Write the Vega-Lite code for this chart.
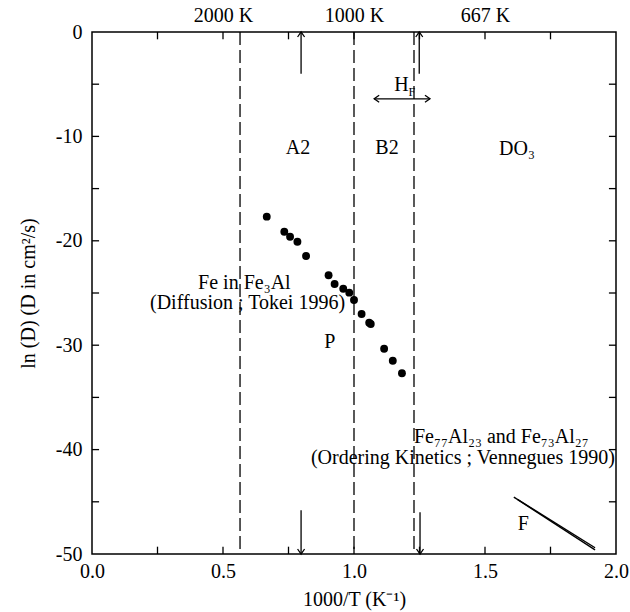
{
  "$schema": "https://vega.github.io/schema/vega-lite/v6.json",
  "width": 524,
  "height": 522,
  "autosize": "none",
  "padding": {"left": 92, "top": 32, "right": 14, "bottom": 58},
  "background": "white",
  "config": {
    "view": {"stroke": "black", "strokeWidth": 1.5},
    "font": "Liberation Serif",
    "axis": {
      "labelFont": "Liberation Serif",
      "titleFont": "Liberation Serif",
      "labelFontSize": 20,
      "titleFontSize": 20,
      "titleFontWeight": "normal",
      "labelColor": "black",
      "titleColor": "black",
      "grid": false,
      "ticks": false,
      "domain": false,
      "labelFlush": false,
      "labelOverlap": false,
      "zindex": 1
    }
  },
  "datasets": {
    "points": [
      {"x": 0.667, "y": -17.69},
      {"x": 0.734, "y": -19.13},
      {"x": 0.756, "y": -19.61},
      {"x": 0.784, "y": -20.09},
      {"x": 0.817, "y": -21.46},
      {"x": 0.903, "y": -23.30},
      {"x": 0.926, "y": -24.14},
      {"x": 0.959, "y": -24.59},
      {"x": 0.982, "y": -24.97},
      {"x": 1.000, "y": -25.67},
      {"x": 1.029, "y": -27.01},
      {"x": 1.058, "y": -27.84},
      {"x": 1.064, "y": -27.97},
      {"x": 1.115, "y": -30.34},
      {"x": 1.148, "y": -31.49},
      {"x": 1.183, "y": -32.69}
    ],
    "xticks": [{"v": 0.25}, {"v": 0.5}, {"v": 0.75}, {"v": 1.0}, {"v": 1.25}, {"v": 1.5}, {"v": 1.75}],
    "yticks": [{"v": -45}, {"v": -40}, {"v": -35}, {"v": -30}, {"v": -25}, {"v": -20}, {"v": -15}, {"v": -10}, {"v": -5}],
    "dashes": [{"x": 0.565}, {"x": 1.0}, {"x": 1.229}],
    "stems": [
      {"x": 0.798, "y": -4.0, "x2": 0.798, "y2": 0},
      {"x": 1.249, "y": -4.0, "x2": 1.249, "y2": 0},
      {"x": 0.798, "y": -45.8, "x2": 0.798, "y2": -50},
      {"x": 1.252, "y": -46.0, "x2": 1.252, "y2": -50},
      {"x": 1.077, "y": -6.4, "x2": 1.29, "y2": -6.4}
    ],
    "heads": [
      {"x": 0.798, "y": 0, "dir": "up"},
      {"x": 1.249, "y": 0, "dir": "up"},
      {"x": 0.798, "y": -50, "dir": "down"},
      {"x": 1.252, "y": -50, "dir": "down"},
      {"x": 1.077, "y": -6.4, "dir": "left"},
      {"x": 1.29, "y": -6.4, "dir": "right"}
    ],
    "fline": [
      {"x": 1.61, "y": -44.55, "s": "a"},
      {"x": 1.92, "y": -49.4, "s": "a"},
      {"x": 1.625, "y": -44.8, "s": "b"},
      {"x": 1.92, "y": -49.6, "s": "b"}
    ],
    "ctext": [
      {"x": 0.786, "y": -11.1, "t": "A2"},
      {"x": 1.126, "y": -11.1, "t": "B2"},
      {"x": 1.622, "y": -11.2, "t": "DO₃"},
      {"x": 0.908, "y": -29.7, "t": "P"},
      {"x": 1.646, "y": -47.1, "t": "F"},
      {"x": 1.181, "y": -5.1, "t": "H"}
    ],
    "ltext": [
      {"x": 0.405, "y": -24.04, "t": "Fe in Fe₃Al"},
      {"x": 1.229, "y": -38.8, "t": "Fe₇₇Al₂₃ and Fe₇₃Al₂₇"}
    ],
    "rtext": [
      {"x": 0.966, "y": -25.96, "t": "(Diffusion ; Tokei 1996)"},
      {"x": 1.996, "y": -40.8, "t": "(Ordering Kinetics ; Vennegues 1990)"}
    ],
    "subtext": [
      {"x": 1.221, "y": -5.75, "t": "F"}
    ]
  },
  "resolve": {"axis": {"x": "independent", "y": "independent"}},
  "layer": [
    {
      "data": {"name": "dashes"},
      "mark": {"type": "rule", "color": "black", "strokeWidth": 1.3, "strokeDash": [13, 5]},
      "encoding": {
        "x": {"field": "x", "type": "quantitative", "scale": {"domain": [0, 2], "nice": false, "zero": false},
          "axis": {"orient": "top", "values": [0.5, 1.0, 1.5],
            "labelExpr": "datum.value == 0.5 ? '2000 K' : datum.value == 1 ? '1000 K' : '667 K'",
            "labelPadding": 7, "title": null}}
      }
    },
    {
      "data": {"name": "points"},
      "mark": {"type": "point", "filled": true, "color": "black", "size": 62, "opacity": 1},
      "encoding": {
        "x": {"field": "x", "type": "quantitative", "scale": {"domain": [0, 2], "nice": false, "zero": false},
          "axis": {"orient": "bottom", "values": [0, 0.5, 1.0, 1.5, 2.0], "format": ".1f",
            "labelPadding": 7, "title": "1000/T (K⁻¹)", "titlePadding": 8}},
        "y": {"field": "y", "type": "quantitative", "scale": {"domain": [-50, 0], "nice": false, "zero": false},
          "axis": {"orient": "left", "values": [-50, -40, -30, -20, -10, 0],
            "labelExpr": "datum.value < 0 ? '-' + (-datum.value) : '0'",
            "labelPadding": 10, "title": "ln (D) (D in cm²/s)", "titlePadding": 17}}
      }
    },
    {
      "data": {"name": "xticks"},
      "mark": {"type": "rule", "color": "black", "strokeWidth": 1.3},
      "encoding": {
        "x": {"field": "v", "type": "quantitative", "axis": null},
        "y": {"datum": -50, "type": "quantitative", "axis": null},
        "y2": {"datum": -49.3}
      }
    },
    {
      "data": {"name": "xticks"},
      "mark": {"type": "rule", "color": "black", "strokeWidth": 1.3},
      "encoding": {
        "x": {"field": "v", "type": "quantitative", "axis": null},
        "y": {"datum": 0, "type": "quantitative", "axis": null},
        "y2": {"datum": -0.7}
      }
    },
    {
      "data": {"name": "yticks"},
      "mark": {"type": "rule", "color": "black", "strokeWidth": 1.3},
      "encoding": {
        "y": {"field": "v", "type": "quantitative", "axis": null},
        "x": {"datum": 0, "type": "quantitative", "axis": null},
        "x2": {"datum": 0.027}
      }
    },
    {
      "data": {"name": "yticks"},
      "mark": {"type": "rule", "color": "black", "strokeWidth": 1.3},
      "encoding": {
        "y": {"field": "v", "type": "quantitative", "axis": null},
        "x": {"datum": 2, "type": "quantitative", "axis": null},
        "x2": {"datum": 1.973}
      }
    },
    {
      "data": {"name": "stems"},
      "mark": {"type": "rule", "color": "black", "strokeWidth": 1.3},
      "encoding": {
        "x": {"field": "x", "type": "quantitative", "axis": null},
        "y": {"field": "y", "type": "quantitative", "axis": null},
        "x2": {"field": "x2"},
        "y2": {"field": "y2"}
      }
    },
    {
      "data": {"name": "heads"},
      "mark": {"type": "point", "filled": false, "color": "black", "strokeWidth": 1.3, "size": 100, "opacity": 1},
      "encoding": {
        "x": {"field": "x", "type": "quantitative", "axis": null},
        "y": {"field": "y", "type": "quantitative", "axis": null},
        "shape": {"field": "dir", "type": "nominal", "legend": null,
          "scale": {"domain": ["up", "down", "left", "right"],
            "range": ["M-0.7,1L0,0L0.7,1", "M-0.7,-1L0,0L0.7,-1", "M1,-0.7L0,0L1,0.7", "M-1,-0.7L0,0L-1,0.7"]}}
      }
    },
    {
      "data": {"name": "fline"},
      "mark": {"type": "line", "color": "black", "strokeWidth": 1.4},
      "encoding": {
        "x": {"field": "x", "type": "quantitative", "axis": null},
        "y": {"field": "y", "type": "quantitative", "axis": null},
        "detail": {"field": "s"}
      }
    },
    {
      "data": {"name": "ctext"},
      "mark": {"type": "text", "font": "Liberation Serif", "fontSize": 20, "align": "center", "baseline": "middle", "color": "black"},
      "encoding": {
        "x": {"field": "x", "type": "quantitative", "axis": null},
        "y": {"field": "y", "type": "quantitative", "axis": null},
        "text": {"field": "t"}
      }
    },
    {
      "data": {"name": "ltext"},
      "mark": {"type": "text", "font": "Liberation Serif", "fontSize": 20, "align": "left", "baseline": "middle", "color": "black"},
      "encoding": {
        "x": {"field": "x", "type": "quantitative", "axis": null},
        "y": {"field": "y", "type": "quantitative", "axis": null},
        "text": {"field": "t"}
      }
    },
    {
      "data": {"name": "rtext"},
      "mark": {"type": "text", "font": "Liberation Serif", "fontSize": 20, "align": "right", "baseline": "middle", "color": "black"},
      "encoding": {
        "x": {"field": "x", "type": "quantitative", "axis": null},
        "y": {"field": "y", "type": "quantitative", "axis": null},
        "text": {"field": "t"}
      }
    },
    {
      "data": {"name": "subtext"},
      "mark": {"type": "text", "font": "Liberation Serif", "fontSize": 12, "align": "center", "baseline": "middle", "color": "black"},
      "encoding": {
        "x": {"field": "x", "type": "quantitative", "axis": null},
        "y": {"field": "y", "type": "quantitative", "axis": null},
        "text": {"field": "t"}
      }
    }
  ]
}
